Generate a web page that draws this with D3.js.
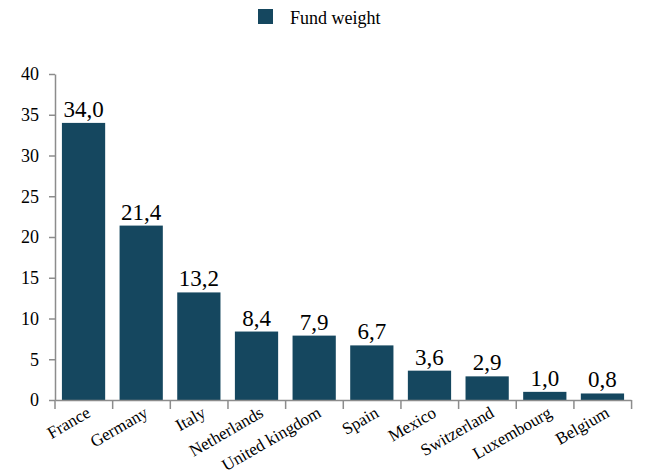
<!DOCTYPE html>
<html><head><meta charset="utf-8">
<script src="https://cdn.jsdelivr.net/npm/d3@7/dist/d3.min.js"></script>
<style>body{margin:0;background:#fff}svg{display:block}</style>
</head><body>
<svg id="c" width="645" height="474"></svg>
<script>
const categories = ["France","Germany","Italy","Netherlands","United kingdom","Spain","Mexico","Switzerland","Luxembourg","Belgium"];
const values = [34.0,21.4,13.2,8.4,7.9,6.7,3.6,2.9,1.0,0.8];
const yTicks = [0,5,10,15,20,25,30,35,40];
const seriesName = "Fund weight";

const FONT = '"Liberation Serif", "Times New Roman", Times, serif';
const svg = d3.select("#c").style("font-family", FONT);
const color = "#15475f";
const axisColor = "#8c8c8c";

const x = d3.scaleBand().domain(categories).range([55, 631]).paddingInner(0.25).paddingOuter(0.12);
const y = d3.scaleLinear().domain([0, 40]).range([400, 74]);

// bars
svg.selectAll("rect.bar").data(values).join("rect")
  .attr("class","bar")
  .attr("x",(d,i)=>x(categories[i]))
  .attr("width",x.bandwidth())
  .attr("y",d=>y(d))
  .attr("height",d=>y(0)-y(d))
  .attr("fill",color);

// value labels
svg.selectAll("text.val").data(values).join("text")
  .attr("class","val")
  .attr("x",(d,i)=>x(categories[i])+x.bandwidth()/2)
  .attr("y",d=>y(d)-6)
  .attr("text-anchor","middle")
  .style("font-family",FONT).style("font-size","23px").attr("fill","#000")
  .text(d=>d.toFixed(1).replace(".",","));

// y axis
const ya = svg.append("g").attr("transform","translate(55,0)")
  .call(d3.axisLeft(y).tickValues(yTicks).tickSize(6).tickSizeOuter(0).tickPadding(10));
ya.attr("font-family",null);
ya.select(".domain").attr("stroke",axisColor).attr("stroke-width",1.5);
ya.selectAll(".tick line").attr("stroke",axisColor).attr("stroke-width",1.5);
ya.selectAll(".tick text").style("font-family",FONT).style("font-size","18px").attr("fill","#000");

// x axis
const xa = svg.append("g").attr("transform","translate(0,400)")
  .call(d3.axisBottom(x).tickSize(0).tickSizeOuter(0));
xa.attr("font-family",null);
xa.select(".domain").attr("stroke",axisColor).attr("stroke-width",1.5);
xa.selectAll(".tick text")
  .style("font-family",FONT).style("font-size","17px").attr("fill","#000")
  .attr("text-anchor","end")
  .attr("y",0).attr("dy",0)
  .attr("transform","translate(8,16) rotate(-30)");
// boundary ticks between categories
const step = x.step();
const x0 = 55;
const bounds = d3.range(categories.length+1).map(i=>x0 + i*step);
xa.selectAll("line.bt").data(bounds).join("line").attr("class","bt")
  .attr("x1",d=>d).attr("x2",d=>d).attr("y1",0).attr("y2",9)
  .attr("stroke",axisColor).attr("stroke-width",1.5);

// legend
svg.append("rect").attr("x",258).attr("y",9).attr("width",15).attr("height",15).attr("fill",color);
svg.append("text").attr("x",290).attr("y",24).style("font-family",FONT).style("font-size","18px").attr("fill","#000").text(seriesName);
</script>
</body></html>
